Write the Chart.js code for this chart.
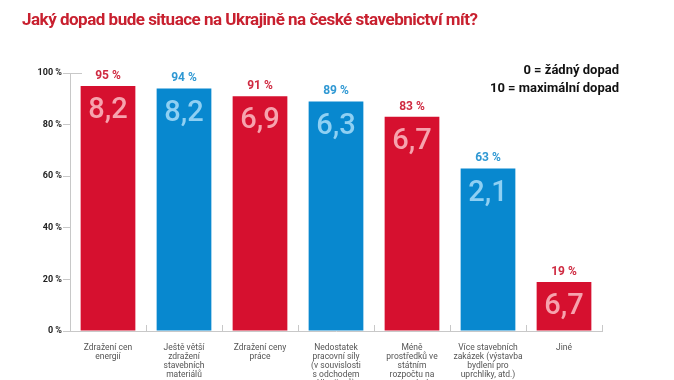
<!DOCTYPE html>
<html lang="cs">
<head>
<meta charset="utf-8">
<script src="https://cdn.jsdelivr.net/npm/chart.js@4/dist/chart.umd.min.js"></script>
<style>
  html, body { margin: 0; padding: 0; background: #fff; overflow: hidden; }
  #wrap { width: 674px; height: 380px; }
</style>
</head>
<body>
<div id="wrap"><canvas id="graf"></canvas></div>
<script>
// data z grafu
const kategorie = [
  ["Zdražení cen", "energií"],
  ["Ještě větší", "zdražení", "stavebních", "materiálů"],
  ["Zdražení ceny", "práce"],
  ["Nedostatek", "pracovní síly", "(v souvislosti", "s odchodem", "Ukrajinců)"],
  ["Méně", "prostředků ve", "státním", "rozpočtu na", "stavební", "zakázky"],
  ["Více stavebních", "zakázek (výstavba", "bydlení pro", "uprchlíky, atd.)"],
  ["Jiné"]
];
const podil = [95, 94, 91, 89, 83, 63, 19];          // % respondentů
const dopad = ["8,2", "8,2", "6,9", "6,3", "6,7", "2,1", "6,7"]; // průměrný dopad 0–10
const osaY = [0, 20, 40, 60, 80, 100];
const nadpis = "Jaký dopad bude situace na Ukrajině na české stavebnictví mít?";
const legenda = ["0 = žádný dopad", "10 = maximální dopad"];

const cervena = "#d6102f", modra = "#0888cf";
const barvy = podil.map((v, i) => i % 2 === 0 ? cervena : modra);
const svetle = podil.map((v, i) => i % 2 === 0 ? "#f6a3ae" : "#8fd0f3");
const popisky = podil.map((v, i) => i % 2 === 0 ? "#cf2a41" : "#2f98d3");
const pismo = "Roboto, 'Noto Sans', sans-serif";

const kresleni = {
  id: "kresleni",
  afterDatasetsDraw(chart) {
    const ctx = chart.ctx;
    const meta = chart.getDatasetMeta(0);
    ctx.save();
    meta.data.forEach((bar, i) => {
      ctx.textAlign = "center";
      ctx.textBaseline = "middle";
      ctx.fillStyle = popisky[i];
      ctx.font = "bold 12px " + pismo;
      ctx.fillText(podil[i] + " %", bar.x, bar.y - 10);
      ctx.fillStyle = svetle[i];
      ctx.font = "500 29px " + pismo;
      ctx.fillText(dopad[i], bar.x, bar.y + 25);
    });
    // značky na ose x (směrem nahoru)
    const a = chart.chartArea;
    const krok = (a.right - a.left) / kategorie.length;
    ctx.strokeStyle = "#c8c8c8";
    ctx.lineWidth = 1;
    ctx.beginPath();
    for (let i = 1; i <= kategorie.length; i++) {
      const x = Math.round(a.left + krok * i) + 0.5;
      ctx.moveTo(x, a.bottom);
      ctx.lineTo(x, a.bottom - 6);
    }
    ctx.moveTo(a.left, a.top + 0.5);
    ctx.lineTo(a.left + 12, a.top + 0.5);
    ctx.stroke();
    ctx.restore();
  },
  afterDraw(chart) {
    const ctx = chart.ctx;
    ctx.save();
    ctx.fillStyle = "#c8202f";
    ctx.font = "bold 17px " + pismo;
    ctx.letterSpacing = "-0.5px";
    ctx.textAlign = "left";
    ctx.textBaseline = "middle";
    ctx.fillText(nadpis, 22, 21);
    ctx.letterSpacing = "0px";
    ctx.fillStyle = "#111";
    ctx.font = "bold 13px " + pismo;
    ctx.textAlign = "right";
    ctx.fillText(legenda[0], 619, 71);
    ctx.fillText(legenda[1], 619, 89);
    ctx.restore();
  }
};

new Chart(document.getElementById("graf"), {
  type: "bar",
  data: {
    labels: kategorie,
    datasets: [{
      data: podil,
      backgroundColor: barvy,
      borderWidth: 0,
      barPercentage: 0.72,
      categoryPercentage: 1
    }]
  },
  options: {
    responsive: true,
    maintainAspectRatio: false,
    animation: false,
    layout: { padding: { top: 73, right: 72, left: 0, bottom: 0 } },
    plugins: { legend: { display: false }, tooltip: { enabled: false }, title: { display: false } },
    scales: {
      x: {
        afterFit(s) { s.height = 49; },
        grid: { display: false },
        border: { color: "#c8c8c8" },
        ticks: {
          maxRotation: 0, autoSkip: false, padding: 4,
          color: "#555", font: { family: pismo, size: 8.5, lineHeight: 1.06 }
        }
      },
      y: {
        min: 0, max: 100,
        afterFit(s) { s.width = 70; },
        afterBuildTicks(s) { s.ticks = osaY.map(v => ({ value: v })); },
        grid: { drawOnChartArea: false, tickLength: 7, color: "#c8c8c8" },
        border: { color: "#c8c8c8" },
        ticks: {
          padding: 1, color: "#222",
          font: { family: pismo, size: 9, weight: "bold" },
          callback: v => v + " %"
        }
      }
    }
  },
  plugins: [kresleni]
});
</script>
</body>
</html>
